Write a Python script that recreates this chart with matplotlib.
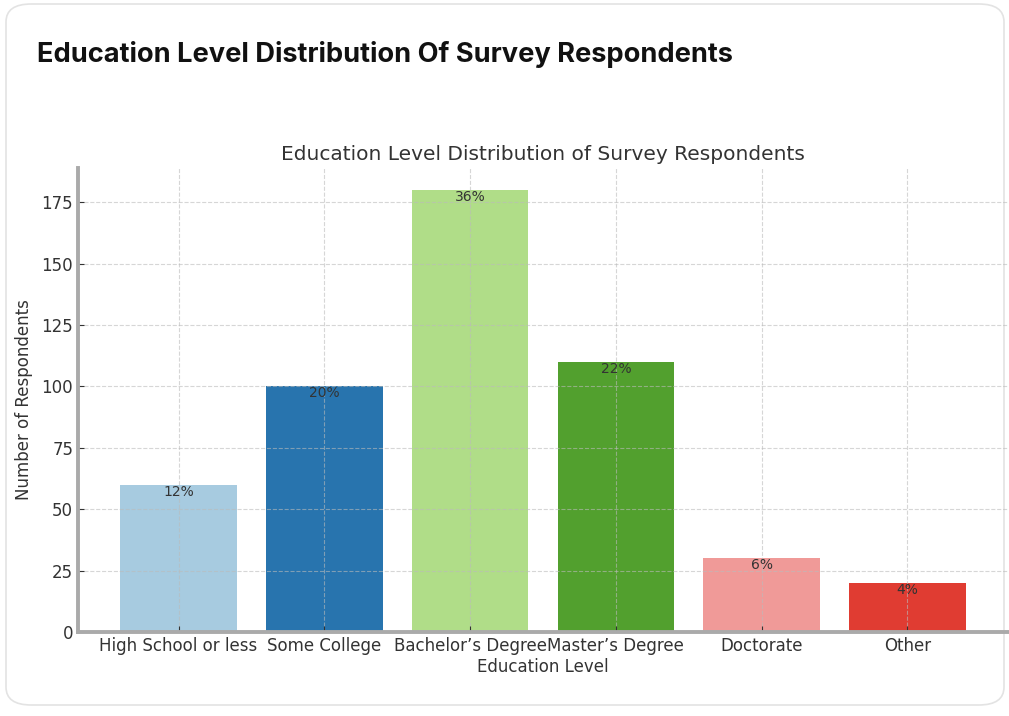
import os
import matplotlib
matplotlib.use("Agg")
import matplotlib.pyplot as plt
from matplotlib import font_manager as fm
from matplotlib.patches import FancyBboxPatch

base_family = "DejaVu Sans"
_dv = os.path.join(matplotlib.get_data_path(), "fonts", "ttf", "DejaVuSans.ttf")
if os.path.exists(_dv):
    fm.fontManager.addfont(_dv)
    base_family = fm.FontProperties(fname=_dv).get_name()
plt.rcParams["font.family"] = [base_family]

categories = ["High School or less", "Some College", "Bachelor\u2019s Degree",
              "Master\u2019s Degree", "Doctorate", "Other"]
counts = [60, 100, 180, 110, 30, 20]
percent_labels = ["12%", "20%", "36%", "22%", "6%", "4%"]
bar_colors = ["#a7cbe0", "#2874ae", "#b0dd88", "#52a02e", "#f09a98", "#e03c32"]

W, H = 1009, 716
fig = plt.figure(figsize=(W / 100, H / 100), dpi=100)

# card background
card = FancyBboxPatch((6 / W, 11 / H), (1004 - 6) / W, (712 - 11) / H,
                      boxstyle="round,pad=0,rounding_size=0.025",
                      transform=fig.transFigure, facecolor="white",
                      edgecolor="#e3e3e3", linewidth=1.2, zorder=-10)
fig.patches.append(card)

fig.text(37 / W, 1 - 55 / H, "Education Level Distribution Of Survey Respondents",
         fontsize=19.6, fontweight="bold", family=["Inter", base_family],
         color="#111111", va="center", ha="left")

ax = fig.add_axes([78 / W, (H - 632) / H, (1008 - 78) / W, (632 - 168) / H])
ax.patch.set_alpha(0)
x = range(len(categories))
bars = ax.bar(x, counts, width=0.8, color=bar_colors, zorder=2)
for xi, c, lab in zip(x, counts, percent_labels):
    ax.text(xi, c, lab, ha="center", va="top", fontsize=10, color="#333333", zorder=4)

ax.set_xticks(list(x))
ax.set_xticklabels(categories, fontsize=12, color="#333333")
ax.tick_params(axis="y", labelsize=12, labelcolor="#333333")
ax.tick_params(direction="in", length=4, color="#333333")
ax.set_xlabel("Education Level", fontsize=12, color="#333333", labelpad=2)
ax.set_ylabel("Number of Respondents", fontsize=12, color="#333333", labelpad=6)
ax.set_title("Education Level Distribution of Survey Respondents", fontsize=14.5,
             color="#333333", pad=6)
ax.set_yticks([0, 25, 50, 75, 100, 125, 150, 175])
ax.set_axisbelow(False)
ax.grid(True, linestyle="--", color="#bbbbbb", alpha=0.6, linewidth=0.8, zorder=3)
for s in ["top", "right"]:
    ax.spines[s].set_visible(False)
for s in ["left", "bottom"]:
    ax.spines[s].set_color("#aaaaaa")
    ax.spines[s].set_linewidth(2.8)
    ax.spines[s].set_zorder(5)

fig.savefig("out.png", dpi=100)
